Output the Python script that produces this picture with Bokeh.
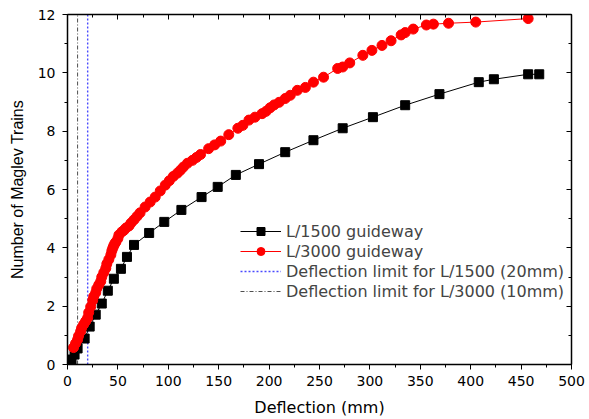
from bokeh.plotting import figure
from bokeh.models import (LinearAxis, SingleIntervalTicker, Range1d, Legend, LegendItem,
                          ColumnDataSource)
from bokeh.embed import file_html
from bokeh.resources import INLINE

# ---- data ----
l1500_x = [4, 7, 10, 17, 22, 28, 34, 40, 46, 53, 59, 66, 81, 96, 113, 133, 149, 167,
           190, 216, 244, 273, 303, 335, 369, 408, 423, 457, 468]
l1500_y = [0.17, 0.34, 0.55, 0.89, 1.3, 1.71, 2.09, 2.53, 2.94, 3.28, 3.69, 4.1, 4.51,
           4.89, 5.3, 5.74, 6.09, 6.5, 6.87, 7.28, 7.69, 8.1, 8.48, 8.89, 9.27, 9.68,
           9.78, 9.95, 9.95]

l3000_x = [6, 8, 10, 11, 13, 14, 16, 18, 20, 21, 23, 25, 26, 28, 29, 31, 33, 34, 36,
           38, 39, 41, 43, 44, 45, 46, 47, 48, 50, 51, 54, 56, 58, 61, 63, 66, 69, 72,
           77, 82, 87, 92, 97, 101, 105, 109, 112, 115, 119, 124, 128, 132, 140, 146,
           152, 160, 169, 174, 180, 186, 193, 197, 201, 205, 210, 216, 221, 228, 236,
           244, 254, 268, 273, 280, 293, 302, 312, 321, 331, 335, 343, 356, 363, 378,
           405, 457]
l3000_y = [0.58, 0.72, 0.85, 0.98, 1.13, 1.25, 1.37, 1.48, 1.6, 1.78, 1.98, 2.2, 2.33,
           2.46, 2.6, 2.73, 2.85, 3.0, 3.15, 3.3, 3.45, 3.6, 3.76, 3.9, 4.0, 4.08, 4.15,
           4.2, 4.32, 4.44, 4.55, 4.6, 4.68, 4.75, 4.85, 4.96, 5.08, 5.2, 5.4, 5.57,
           5.74, 5.95, 6.15, 6.3, 6.45, 6.56, 6.66, 6.77, 6.9, 7.0, 7.1, 7.2, 7.4, 7.53,
           7.66, 7.88, 8.1, 8.2, 8.38, 8.48, 8.6, 8.68, 8.8, 8.9, 8.99, 9.12, 9.23, 9.4,
           9.5, 9.68, 9.85, 10.15, 10.2, 10.34, 10.6, 10.77, 10.94, 11.1, 11.3, 11.38,
           11.5, 11.64, 11.67, 11.7, 11.74, 11.86]

limit_values = [20, 10]
limit_labels = ["Deflection limit for L/1500 (20mm)", "Deflection limit for L/3000 (10mm)"]
series_labels = ["L/1500 guideway", "L/3000 guideway"]

x_range = (0, 500)
y_range = (0, 12)

HFONT = "DejaVu Sans"       # horizontal texts (reference is horizontally stretched Arial)
VFONT = "Liberation Sans"   # vertical axis title

p = figure(width=585, height=419, output_backend="svg", toolbar_location=None,
           x_range=Range1d(*x_range), y_range=Range1d(*y_range),
           min_border_left=67, min_border_right=14, min_border_top=14, min_border_bottom=54)
p.xgrid.visible = False
p.ygrid.visible = False
p.outline_line_color = None

# limit lines
blue_line = p.segment(x0=[limit_values[0]], y0=[y_range[0]], x1=[limit_values[0]], y1=[y_range[1]],
                      line_color="#4a4aff", line_width=1.4, line_dash="2 2")
black_lim = p.segment(x0=[limit_values[1]], y0=[y_range[0]], x1=[limit_values[1]], y1=[y_range[1]],
                      line_color="#222222", line_width=0.8, line_dash="4 2 1 2")

# series
s1 = ColumnDataSource(dict(x=l1500_x, y=l1500_y))
s2 = ColumnDataSource(dict(x=l3000_x, y=l3000_y))
r1l = p.line("x", "y", source=s1, line_color="black", line_width=1)
r1m = p.scatter("x", "y", source=s1, marker="square", size=9, fill_color="black", line_color="black")
r2l = p.line("x", "y", source=s2, line_color="red", line_width=1)
r2m = p.scatter("x", "y", source=s2, marker="circle", size=10, fill_color="red", line_color="red")

# axes styling
def style_axis(ax, inside, labels=True):
    ax.axis_line_color = "black"
    ax.axis_line_width = 1.5
    ax.major_tick_line_color = "black"
    ax.minor_tick_line_color = "black"
    ax.major_tick_line_width = 1
    if inside:
        ax.major_tick_in = 5
        ax.major_tick_out = 0
        ax.minor_tick_in = 3
        ax.minor_tick_out = 0
    else:
        ax.major_tick_in = 0
        ax.major_tick_out = 5
        ax.minor_tick_in = 0
        ax.minor_tick_out = 3
    ax.major_label_text_font = HFONT
    ax.major_label_text_font_size = "14px"
    ax.major_label_text_color = "black"
    if not labels:
        ax.major_label_text_alpha = 0
        ax.major_label_text_font_size = "1px"
        ax.major_label_standoff = 0

xt = SingleIntervalTicker(interval=50, num_minor_ticks=2)
yt = SingleIntervalTicker(interval=2, num_minor_ticks=2)

p.xaxis.ticker = xt
p.yaxis.ticker = yt
style_axis(p.xaxis[0], inside=False)
style_axis(p.yaxis[0], inside=False)
p.xaxis.axis_label = "Deflection (mm)"
p.yaxis.axis_label = "Number of Maglev Trains"
p.xaxis.axis_label_text_font = HFONT
p.yaxis.axis_label_text_font = VFONT
for ax in (p.xaxis[0], p.yaxis[0]):
    ax.axis_label_text_font_size = "16px"
    ax.axis_label_text_font_style = "normal"
    ax.axis_label_text_color = "black"
p.xaxis.major_label_standoff = 6
p.yaxis.major_label_standoff = 7
p.xaxis.axis_label_standoff = 9
p.yaxis.axis_label_standoff = 9

top = LinearAxis(ticker=SingleIntervalTicker(interval=50, num_minor_ticks=2))
right = LinearAxis(ticker=SingleIntervalTicker(interval=2, num_minor_ticks=2))
style_axis(top, inside=True, labels=False)
style_axis(right, inside=True, labels=False)
p.add_layout(top, "above")
p.add_layout(right, "right")

legend = Legend(items=[
    LegendItem(label=series_labels[0], renderers=[r1l, r1m]),
    LegendItem(label=series_labels[1], renderers=[r2l, r2m]),
    LegendItem(label=limit_labels[0], renderers=[blue_line]),
    LegendItem(label=limit_labels[1], renderers=[black_lim]),
], location=(173, 63))
legend.border_line_color = None
legend.background_fill_alpha = 0
legend.label_text_font = HFONT
legend.label_text_font_size = "16px"
legend.glyph_width = 41
legend.glyph_height = 20
legend.label_height = 20
legend.spacing = 0
legend.padding = 2
legend.margin = 0
legend.label_standoff = 5
p.add_layout(legend, "center")

open("out.html", "w").write(file_html(p, INLINE))
